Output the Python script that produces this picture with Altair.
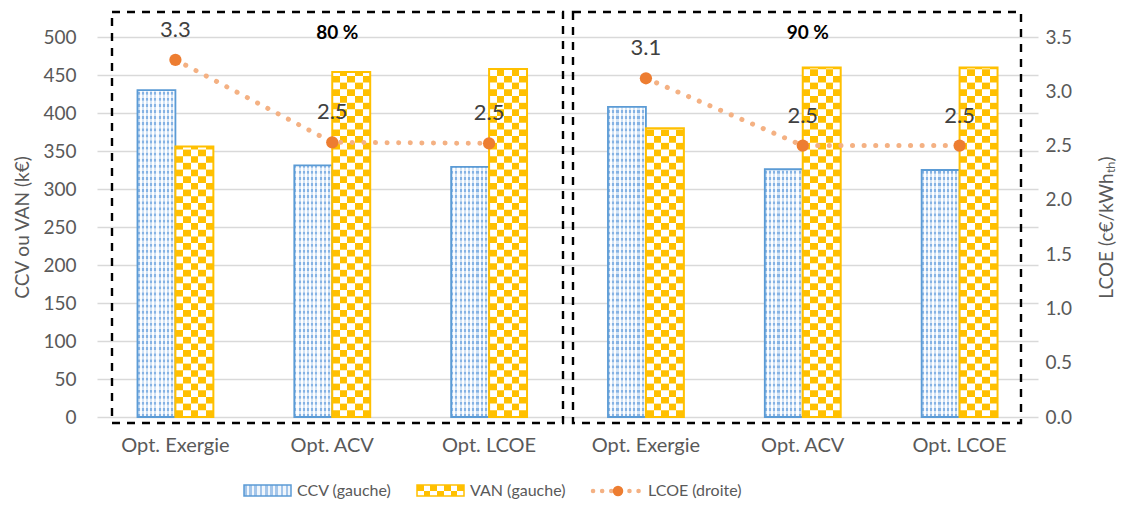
import altair as alt
import pandas as pd

# ---------------- data ----------------
scenarios = ["80 %", "80 %", "80 %", "90 %", "90 %", "90 %"]
options = ["Opt. Exergie", "Opt. ACV", "Opt. LCOE", "Opt. Exergie", "Opt. ACV", "Opt. LCOE"]
ccv = [430, 331, 329, 408, 326, 325]
van = [356, 454, 458, 380, 460, 460]
lcoe = [3.29, 2.53, 2.52, 3.12, 2.50, 2.50]
left_ticks = [0, 50, 100, 150, 200, 250, 300, 350, 400, 450, 500]
right_ticks = [0.0, 0.5, 1.0, 1.5, 2.0, 2.5, 3.0, 3.5]
legend_labels = ["CCV (gauche)", "VAN (gauche)", "LCOE (droite)"]

df = pd.DataFrame({"scenario": scenarios, "option": options,
                   "CCV": ccv, "VAN": van, "LCOE": lcoe})
# unique category keys that still display as the plain option name
# (a zero-width space marks the second group)
df["key"] = [o + ("\u200b" if s == "90 %" else "") for o, s in zip(options, scenarios)]
keys = list(df["key"])

# ---------------- styles ----------------
FONT = "Lato"
GREY = "#595959"
BLUE = "#5B9BD5"
YEL = "#FFC000"
ORANGE = "#ED7D31"
LORANGE = "#F4B183"
STEP = 8.8   # checker row height in data units
DSTEP = 4.0  # dotted pattern row height in data units


def columns_gradient(colors):
    n = len(colors)
    stops = []
    for i, c in enumerate(colors):
        stops.append({"offset": i / n, "color": c})
        stops.append({"offset": (i + 1) / n, "color": c})
    return {"gradient": "linear", "x1": 0, "y1": 0, "x2": 1, "y2": 0, "stops": stops}


ccv_grad = columns_gradient(["#A3C5EA", "#F0F6FC"] * 9)
dot_a = columns_gradient(["#86B3E4", "#F4F8FD"] * 9)
dot_b = columns_gradient(["#D3E4F6", "#FFFFFF"] * 9)
chk_a = columns_gradient([YEL, "#FFFFFF"] * 2 + [YEL])
chk_b = columns_gradient(["#FFFFFF", YEL] * 2 + ["#FFFFFF"])
leg_a = columns_gradient([YEL, "#FFFFFF"] * 3 + [YEL])
leg_b = columns_gradient(["#FFFFFF", YEL] * 3 + ["#FFFFFF"])

xscale = alt.Scale(domain=keys, paddingInner=0.516, paddingOuter=0.258)
xoff_scale = alt.Scale(domain=["CCV", "VAN"], paddingInner=0, paddingOuter=0)


def yl_scale():
    return alt.Scale(domain=[0, 500], nice=False, zero=True)


def yr_scale():
    return alt.Scale(domain=[0, 3.5], nice=False, zero=True)


x_axis = alt.Axis(title=None, domain=False, ticks=False, labelPadding=18,
                  labelFontSize=20, labelColor=GREY, labelAngle=0, grid=False,
                  labelFont=FONT, orient="bottom")
yl_axis = alt.Axis(values=left_ticks, title="CCV ou VAN (k€)", titleFontSize=19,
                   titleColor=GREY, titleFontWeight="normal", titlePadding=10,
                   labelFontSize=19, labelColor=GREY, labelPadding=21,
                   domain=False, ticks=False, grid=True, orient="left",
                   gridColor="#D9D9D9", gridWidth=1.4, labelFont=FONT, titleFont=FONT)
yr_axis = alt.Axis(values=right_ticks, format=".1f", orient="right",
                   title="LCOE (c€/kWhₜₕ)", titleFontSize=19, titleColor=GREY,
                   titleFontWeight="normal", titleAngle=270, titleBaseline="top",
                   titlePadding=26,
                   labelFontSize=19, labelColor=GREY, labelPadding=7,
                   domain=False, ticks=False, grid=False, labelFont=FONT, titleFont=FONT)

X = alt.X("key:N", sort=keys, scale=xscale, axis=x_axis)
Xn = alt.X("key:N", sort=keys, scale=xscale, axis=None)

base = alt.Chart(df)

# ---------------- left axis layers ----------------
ccv_bars = base.transform_calculate(series="'CCV'").mark_bar(
    fill="#FFFFFF", strokeWidth=0
).encode(
    x=X,
    xOffset=alt.XOffset("series:N", scale=xoff_scale),
    y=alt.Y("CCV:Q", scale=yl_scale(), axis=yl_axis),
)

ccv_rows = base.transform_calculate(
    series="'CCV'",
    rows=f"sequence(0, ceil(datum.CCV / {DSTEP}))",
).transform_flatten(["rows"]).transform_calculate(
    y0=f"datum.rows * {DSTEP}",
    y1=f"min(datum.rows * {DSTEP} + {DSTEP}, datum.CCV)",
).mark_bar(strokeWidth=0).encode(
    x=Xn,
    xOffset=alt.XOffset("series:N", scale=xoff_scale),
    y=alt.Y("y0:Q", scale=yl_scale(), axis=None),
    y2="y1:Q",
    fill=alt.condition("datum.rows % 2 == 0", alt.value(dot_a), alt.value(dot_b)),
)

ccv_outline = base.transform_calculate(series="'CCV'").mark_bar(
    fillOpacity=0, stroke=BLUE, strokeWidth=1.8
).encode(
    x=Xn,
    xOffset=alt.XOffset("series:N", scale=xoff_scale),
    y=alt.Y("CCV:Q", scale=yl_scale(), axis=None),
)

van_rows = base.transform_calculate(
    series="'VAN'",
    rows=f"sequence(0, ceil(datum.VAN / {STEP}))",
).transform_flatten(["rows"]).transform_calculate(
    y0=f"datum.rows * {STEP}",
    y1=f"min(datum.rows * {STEP} + {STEP} + 0.4, datum.VAN)",
).mark_bar(strokeWidth=0).encode(
    x=Xn,
    xOffset=alt.XOffset("series:N", scale=xoff_scale),
    y=alt.Y("y0:Q", scale=yl_scale(), axis=None),
    y2="y1:Q",
    fill=alt.condition("datum.rows % 2 == 0", alt.value(chk_a), alt.value(chk_b)),
)

van_outline = base.transform_calculate(series="'VAN'").mark_bar(
    fillOpacity=0, stroke=YEL, strokeWidth=2
).encode(
    x=Xn,
    xOffset=alt.XOffset("series:N", scale=xoff_scale),
    y=alt.Y("VAN:Q", scale=yl_scale(), axis=None),
)

group_titles = base.transform_filter("datum.option == 'Opt. ACV'").mark_text(
    font=FONT, fontSize=19, fontWeight="bold", color="#000000", dx=5
).encode(
    x=Xn,
    y=alt.Y(datum=505, scale=yl_scale(), axis=None),
    text="scenario:N",
)

# ---------------- right axis layers ----------------
line = base.mark_line(
    color=LORANGE, strokeWidth=5, strokeDash=[0.1, 11.5], strokeCap="round"
).encode(
    x=Xn,
    y=alt.Y("LCOE:Q", scale=yr_scale(), axis=yr_axis),
    detail="scenario:N",
)
points = base.mark_circle(size=150, color=ORANGE, opacity=1).encode(
    x=Xn, y=alt.Y("LCOE:Q", scale=yr_scale(), axis=None)
)
labels = base.mark_text(font=FONT, fontSize=22, color="#404040", dy=-30).encode(
    x=Xn,
    y=alt.Y("LCOE:Q", scale=yr_scale(), axis=None),
    text=alt.Text("LCOE:Q", format=".1f"),
)

# ---------------- annotations: dashed boxes ----------------
one = alt.Data(values=[{"d": 0}])
box_style = dict(fillOpacity=0, stroke="#000000", strokeWidth=2.4, strokeDash=[8, 7])
box1 = alt.Chart(one).mark_rect(**box_style).encode(
    x=alt.value(15), x2=alt.value(466), y=alt.value(-25), y2=alt.value(386))
box2 = alt.Chart(one).mark_rect(**box_style).encode(
    x=alt.value(476), x2=alt.value(924), y=alt.value(-25), y2=alt.value(386))

# ---------------- legend ----------------
LY = 454
leg_ccv = alt.Chart(one).mark_rect(fill=ccv_grad, stroke=BLUE, strokeWidth=1.5).encode(
    x=alt.value(147), x2=alt.value(194), y=alt.value(LY - 6), y2=alt.value(LY + 5))
leg_van_a = alt.Chart(one).mark_rect(fill=leg_a).encode(
    x=alt.value(320), x2=alt.value(367), y=alt.value(LY - 6), y2=alt.value(LY))
leg_van_b = alt.Chart(one).mark_rect(fill=leg_b).encode(
    x=alt.value(320), x2=alt.value(367), y=alt.value(LY), y2=alt.value(LY + 5))
leg_van_o = alt.Chart(one).mark_rect(fillOpacity=0, stroke=YEL, strokeWidth=1.5).encode(
    x=alt.value(320), x2=alt.value(367), y=alt.value(LY - 6), y2=alt.value(LY + 5))
leg_line = alt.Chart(one).mark_rule(
    color=LORANGE, strokeWidth=4.5, strokeDash=[0.1, 9], strokeCap="round"
).encode(x=alt.value(496), x2=alt.value(546), y=alt.value(LY))
leg_pt = alt.Chart(one).mark_circle(size=110, color=ORANGE, opacity=1).encode(
    x=alt.value(521), y=alt.value(LY))
txt_style = dict(font=FONT, fontSize=16, color=GREY, align="left", baseline="middle")
leg_t1 = alt.Chart(one).mark_text(**txt_style).encode(
    x=alt.value(200), y=alt.value(LY), text=alt.value(legend_labels[0]))
leg_t2 = alt.Chart(one).mark_text(**txt_style).encode(
    x=alt.value(373), y=alt.value(LY), text=alt.value(legend_labels[1]))
leg_t3 = alt.Chart(one).mark_text(**txt_style).encode(
    x=alt.value(551), y=alt.value(LY), text=alt.value(legend_labels[2]))

chart = alt.layer(
    ccv_bars, ccv_rows, ccv_outline, van_rows, van_outline, group_titles,
    line, points, labels,
    box1, box2,
    leg_ccv, leg_van_a, leg_van_b, leg_van_o, leg_line, leg_pt,
    leg_t1, leg_t2, leg_t3,
).resolve_scale(y="independent").resolve_axis(x="independent").properties(
    width=941, height=380,
    autosize=alt.AutoSizeParams(type="none"),
    padding={"left": 89, "top": 29, "right": 81, "bottom": 84},
    background="white",
).configure_view(stroke=None).configure_text(font=FONT)

chart.save("out.html", embed_options={"renderer": "svg", "actions": False})
